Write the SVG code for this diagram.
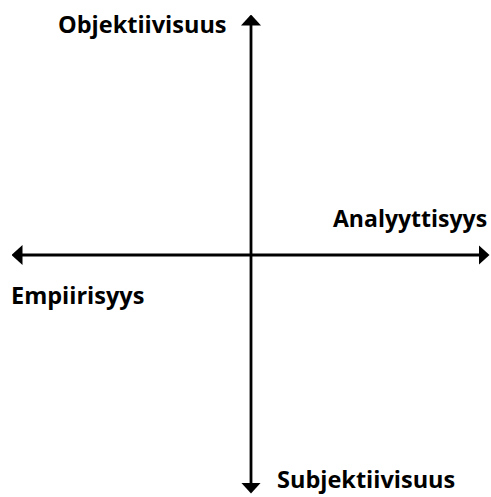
<svg xmlns="http://www.w3.org/2000/svg" width="491" height="497" viewBox="0 0 491 497">
<defs>
<marker id="ah" viewBox="0 0 11 20" refX="0.5" refY="10" markerWidth="11" markerHeight="20" markerUnits="userSpaceOnUse" orient="auto-start-reverse">
<path d="M0,0 L11,10 L0,20 z" fill="#000"/>
</marker>
<style>
.lbl{font-family:"Open Sans","Noto Sans",sans-serif;font-weight:bold;font-size:23.5px;fill:#000}
.ax{stroke:#000;stroke-width:2.8;fill:none}
</style>
</defs>
<rect width="491" height="497" fill="#fff"/>
<g id="connectors">
<line class="ax" x1="251" y1="483" x2="251" y2="25" marker-start="url(#ah)" marker-end="url(#ah)"/>
<line class="ax" x1="22" y1="255" x2="479" y2="255" marker-start="url(#ah)" marker-end="url(#ah)"/>
</g>
<g id="objektiivisuus"><text class="lbl" x="58" y="33">Objektiivisuus</text></g>
<g id="analyyttisyys"><text class="lbl" x="333" y="227" style="font-size:23px">Analyyttisyys</text></g>
<g id="empiirisyys"><text class="lbl" x="11" y="304">Empiirisyys</text></g>
<g id="subjektiivisuus"><text class="lbl" x="277" y="488">Subjektiivisuus</text></g>
</svg>
